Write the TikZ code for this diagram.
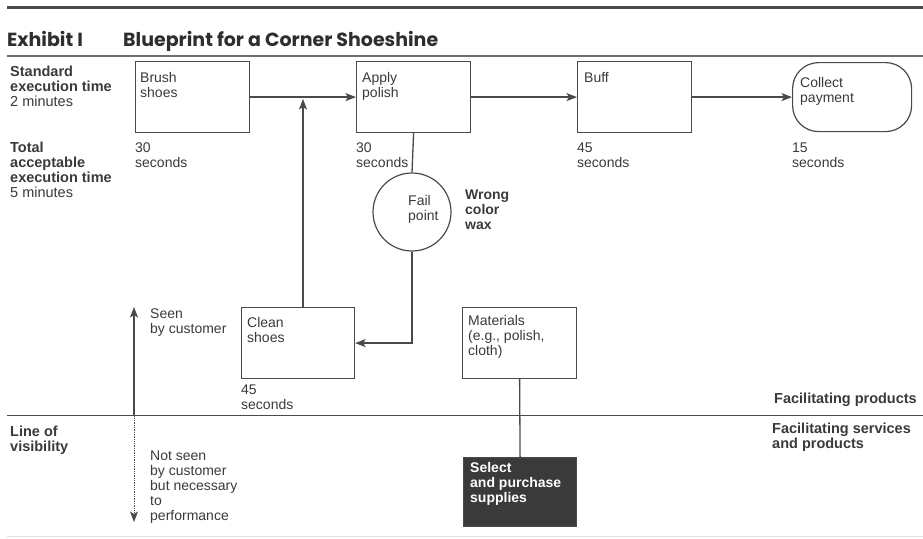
\documentclass[tikz,border=0pt]{standalone}
\usepackage{fontspec}
\setmainfont{Liberation Sans}
\newfontfamily\titlefont{Poppins}
\usetikzlibrary{arrows.meta}
\definecolor{ink}{HTML}{3A3A3A}
\definecolor{titleink}{HTML}{2E2E2E}
\definecolor{linec}{HTML}{4A4A4A}
\definecolor{darkfill}{HTML}{3A3A3A}
\begin{document}
\begin{tikzpicture}[x=1pt,y=-1pt,
  box/.style={draw=linec, line width=1.2pt, minimum width=114pt, minimum height=71pt, anchor=north west, inner sep=0pt},
  txt/.style={anchor=north west, inner sep=0pt, align=left, text=ink, font=\fontsize{14}{15}\selectfont},
  btxt/.style={txt, font=\fontsize{14.5}{14.8}\selectfont\bfseries},
  arr/.style={draw=linec, line width=1.3pt, -{Stealth[length=10.5pt,width=8pt,inset=2.5pt]}},
  conn/.style={draw=linec, line width=1.3pt}
]
\useasboundingbox (0,0) rectangle (923,538);
% rules
\draw[linec, line width=3pt] (7,7.5) -- (923,7.5);
\draw[linec!80, line width=1.3pt] (7,56) -- (923,56);
\draw[linec, line width=1.4pt] (7,415.5) -- (923,415.5);
\draw[black!12, line width=0.8pt] (7,536.5) -- (923,536.5);
% title
\node[anchor=base west, inner sep=0pt, text=titleink, font=\titlefont\bfseries\fontsize{19}{20}\selectfont] (exh) at (7,46) {Exhibit I};
\node[anchor=base west, inner sep=0pt, text=titleink, font=\titlefont\bfseries\fontsize{19}{20}\selectfont] (ttl) at (123,46) {Blueprint for a Corner Shoeshine};
% left labels
\node[btxt] (std) at (10,66) {Standard\\execution time\\\mdseries 2 minutes};
\node[btxt] (tot) at (10,142) {Total\\acceptable\\execution time\\\mdseries 5 minutes};
\node[btxt] (lov) at (10,426) {Line of\\visibility};
% boxes
\node[box] (brush) at (135,61) {};
\node[box] (apply) at (356,61) {};
\node[box] (buff) at (577,61) {};
\node[draw=linec, line width=1.2pt, minimum width=119pt, minimum height=69pt, anchor=north west, inner sep=0pt, rounded corners=26pt] (collect) at (792,62) {};
\node[box, minimum width=113pt] (clean) at (241,307) {};
\node[box] (mat) at (462,307) {};
\node[box, minimum width=113pt, minimum height=69pt, fill=darkfill] (sel) at (463,457) {};
\node[draw=linec, line width=1.2pt, circle, minimum size=78pt, inner sep=0pt] (fail) at (412,212) {};
% box texts
\node[txt] (tbrush) at (140,72) {Brush\\shoes};
\node[txt] (tapply) at (362,72) {Apply\\polish};
\node[txt] (tbuff) at (584,72) {Buff};
\node[txt] (tcollect) at (800,77) {Collect\\payment};
\node[txt] (tclean) at (247,317) {Clean\\shoes};
\node[txt] (tmat) at (468,315) {Materials\\(e.g., polish,\\cloth)};
\node[btxt, text=white, font=\fontsize{14}{15}\selectfont\bfseries] (tsel) at (470,462) {Select\\and purchase\\supplies};
\node[txt] (tfail) at (408,195) {Fail\\point};
\node[btxt, font=\fontsize{14}{15}\selectfont\bfseries] (wrong) at (465,190) {Wrong\\color\\wax};
% times
\node[txt] (t1) at (135,143) {30\\seconds};
\node[txt] (t2) at (356,143) {30\\seconds};
\node[txt] (t3) at (577,143) {45\\seconds};
\node[txt] (t4) at (792,143) {15\\seconds};
\node[txt] (t5) at (241,385) {45\\seconds};
% seen / not seen
\node[txt] (seen) at (150,309) {Seen\\by customer};
\node[txt] (notseen) at (150,451) {Not seen\\by customer\\but necessary\\to\\performance};
\node[btxt, anchor=north east] (fp) at (917,393) {Facilitating products};
\node[btxt] (fsp) at (772,423) {Facilitating services\\and products};
% connectors
\draw[arr] (brush.east) -- (apply.west);
\draw[arr] (apply.east) -- (buff.west);
\draw[arr] (buff.east) -- (collect.west);
\coordinate (uptip) at (303,99);
\draw[arr] (clean.north -| uptip) -- (uptip);
\draw[conn] (apply.south) -- (fail.north);
\draw[arr] (fail.south) |- (clean.east);
\draw[conn] (mat.south) -- (sel.north);
\coordinate (vis) at (134,415.5);
\coordinate (seentip) at (134,307);
\coordinate (nstip) at (134,522);
\draw[arr] (vis) -- (seentip);
\draw[arr, densely dotted, line width=1pt] (vis) -- (nstip);
\end{tikzpicture}
\end{document}
